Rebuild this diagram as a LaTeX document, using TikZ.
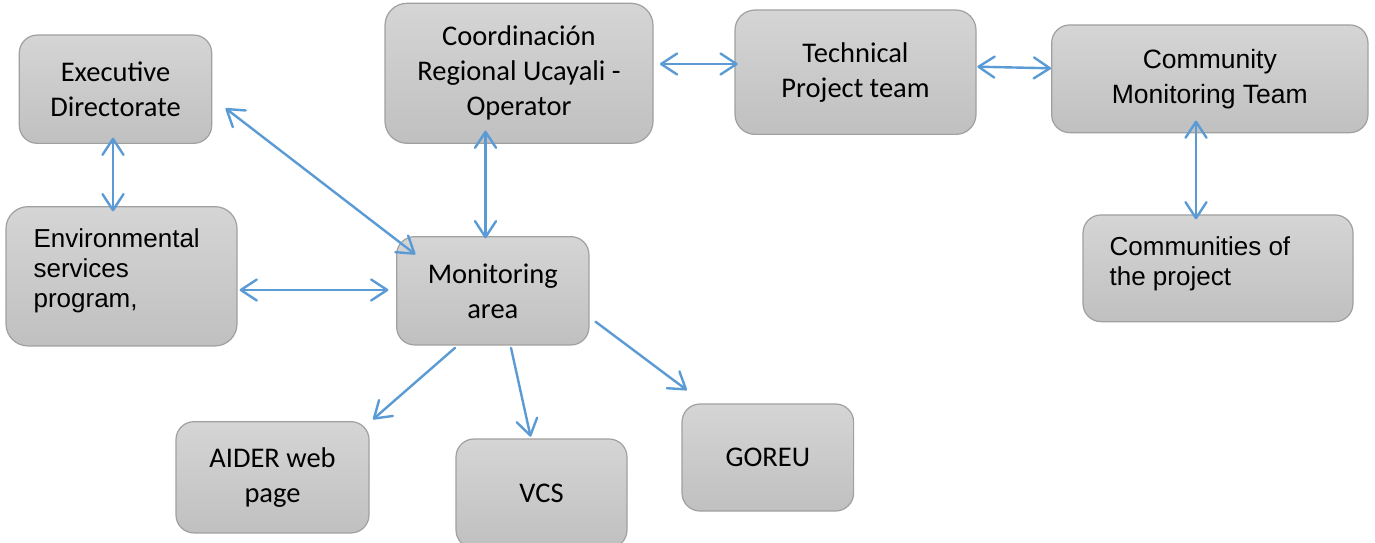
\documentclass[tikz,border=0pt]{standalone}
\usepackage{fontspec}
\newfontfamily\calibri{Carlito}
\newfontfamily\arialf{Liberation Sans}
\usetikzlibrary{arrows.meta,calc}
\definecolor{boxtop}{HTML}{D5D5D5}
\definecolor{boxbot}{HTML}{C0C0C0}
\definecolor{boxline}{HTML}{A0A0A0}
\definecolor{arrowblue}{HTML}{5B9BD5}
\begin{document}
\begin{tikzpicture}[x=1pt,y=-1pt,
  box/.style={draw=boxline, line width=1.2pt, rounded corners=18pt,
    top color=boxtop, bottom color=boxbot, inner sep=0pt, align=center, text=black},
  cal/.style={font=\calibri\fontsize{28.5}{35}\selectfont},
  ari/.style={font=\arialf\fontsize{26}{30}\selectfont},
  link/.style={draw=arrowblue, line width=2.4pt, line cap=round},
  twoway/.style={link, {Straight Barb[length=16pt,width=21pt,round]}-{Straight Barb[length=16pt,width=21pt,round]}},
  oneway/.style={link, -{Straight Barb[length=16pt,width=21pt,round]}}
]
\useasboundingbox (0,0) rectangle (1375,543);
\fill[white] (0,0) rectangle (1375,543);

\node[box,cal,minimum width=192.4pt,minimum height=108.3pt] (exec) at (115.5,89.2) {Executive\\Directorate};
\node[box,cal,minimum width=268pt,minimum height=140pt,rounded corners=22pt] (coord) at (519,73.3) {Coordinación\\Regional Ucayali -\\Operator};
\node[box,cal,minimum width=241pt,minimum height=124.3pt,rounded corners=20pt] (tech) at (855.5,72.2) {Technical\\Project team};
\node[box,font=\arialf\fontsize{26.5}{35}\selectfont,minimum width=316.3pt,minimum height=107.7pt] (comm) at (1209.8,78.8) {Community\\Monitoring Team};
\node[box,minimum width=231pt,minimum height=139.3pt,rounded corners=22pt] (env) at (121.5,276.3) {};
\node[ari,anchor=west,align=left,inner sep=0pt] (envt) at ($(env.west)+(28,-5.5)$) {Environmental\\services\\program,};
\node[box,cal,minimum width=192.3pt,minimum height=108.3pt] (mon) at (492.8,290.8) {Monitoring\\area};
\node[box,minimum width=270pt,minimum height=106.7pt] (commp) at (1218,268.3) {};
\node[ari,anchor=west,align=left,inner sep=0pt] (commpt) at ($(commp.west)+(27,-4.6)$) {Communities of\\the project};
\node[box,cal,minimum width=193pt,minimum height=111.3pt] (aider) at (272.5,477.3) {AIDER web\\page};
\node[box,cal,minimum width=171pt,minimum height=109pt] (vcs) at (541.5,493.5) {VCS};
\node[box,cal,minimum width=171.6pt,minimum height=107pt] (goreu) at (767.8,457.5) {GOREU};

\draw[twoway] ($(coord.east)+(6.3,-9.3)$) -- ($(tech.west)+(3.3,-8.2)$);
\draw[twoway] ($(tech.east)+(0.7,-5.5)$) -- ($(comm.west)+(0,-10.5)$);
\draw[twoway] ($(exec.south)+(-2.5,-6.3)$) -- ($(env.north)+(-8.5,5.3)$);
\draw[twoway] ($(exec.east)+(13.3,19.1)$) -- ($(mon.north west)+(19.3,18.3)$);
\draw[twoway] ($(coord.south)+(-33.5,-13.3)$) -- ($(mon.north)+(-7.3,2.3)$);
\draw[twoway] ($(env.east)+(2,13.7)$) -- ($(mon.west)+(-7.7,-0.8)$);
\draw[twoway] ($(comm.south)+(-13.8,-12.7)$) -- ($(commp.north)+(-22,5)$);
\draw[oneway] ($(mon.south)+(-37.8,2.3)$) -- ($(aider.north east)+(3.4,-1.7)$);
\draw[oneway] ($(mon.south)+(18.2,2.3)$) -- ($(vcs.north)+(-10.9,-1.7)$);
\draw[oneway] ($(mon.east)+(6,30.9)$) -- ($(goreu.north west)+(5.5,-13.3)$);
\end{tikzpicture}
\end{document}
